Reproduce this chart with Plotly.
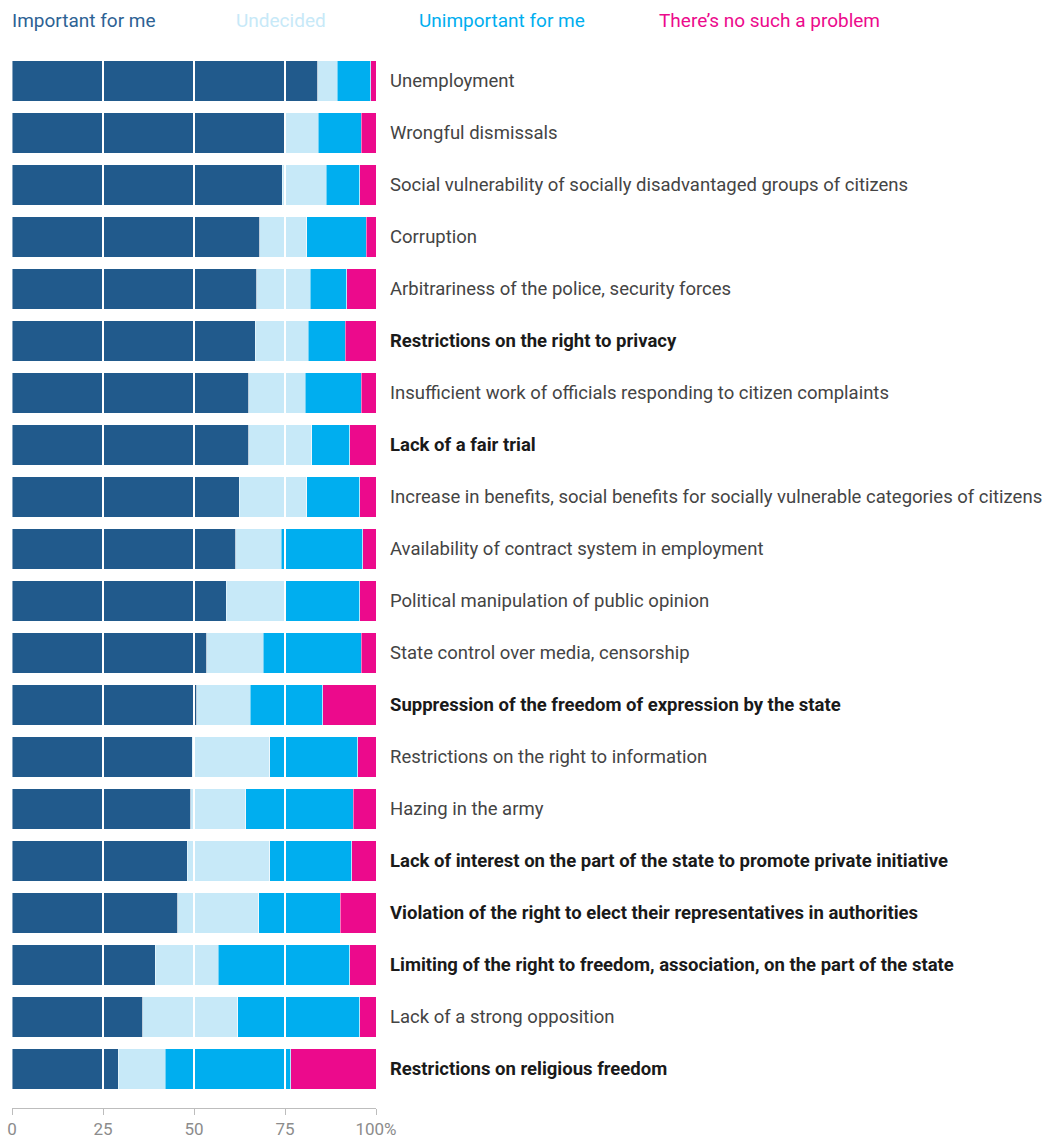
import plotly.graph_objects as go

categories = [
    "Unemployment",
    "Wrongful dismissals",
    "Social vulnerability of socially disadvantaged groups of citizens",
    "Corruption",
    "Arbitrariness of the police, security forces",
    "Restrictions on the right to privacy",
    "Insufficient work of officials responding to citizen complaints",
    "Lack of a fair trial",
    "Increase in benefits, social benefits for socially vulnerable categories of citizens",
    "Availability of contract system in employment",
    "Political manipulation of public opinion",
    "State control over media, censorship",
    "Suppression of the freedom of expression by the state",
    "Restrictions on the right to information",
    "Hazing in the army",
    "Lack of interest on the part of the state to promote private initiative",
    "Violation of the right to elect their representatives in authorities",
    "Limiting of the right to freedom, association, on the part of the state",
    "Lack of a strong opposition",
    "Restrictions on religious freedom",
]
bold_flags = [0, 0, 0, 0, 0, 1, 0, 1, 0, 0, 0, 0, 1, 0, 0, 1, 1, 1, 0, 1]

important = [84.0, 74.8, 74.3, 68.1, 67.2, 66.8, 65.0, 65.0, 62.4, 61.5,
             58.8, 53.5, 50.7, 49.5, 49.1, 48.2, 45.6, 39.4, 35.9, 29.2]
undecided = [5.4, 9.3, 12.0, 12.9, 14.7, 14.6, 15.6, 17.3, 18.6, 12.4,
             16.1, 15.5, 14.8, 21.3, 15.1, 22.6, 22.2, 17.3, 26.1, 12.9]
unimportant = [9.2, 11.9, 9.3, 16.3, 10.1, 10.2, 15.4, 10.5, 14.6, 22.5,
               20.7, 27.0, 19.9, 24.2, 29.6, 22.6, 22.4, 36.1, 33.6, 34.5]
no_problem = [1.4, 4.0, 4.4, 2.7, 8.0, 8.4, 4.0, 7.2, 4.4, 3.6,
              4.4, 4.0, 14.6, 5.0, 6.2, 6.6, 9.8, 7.2, 4.4, 23.4]

series_names = ["Important for me", "Undecided", "Unimportant for me", "There\u2019s no such a problem"]
series_values = [important, undecided, unimportant, no_problem]
colors = ["#215A8C", "#C7E9F8", "#00AEEF", "#EC0A8C"]
legend_text_colors = ["#2D6294", "#C7E9F8", "#00AEEF", "#EC0A8C"]
legend_x = [0.0, 0.615, 1.118, 1.777]  # paper fractions

x_ticks = [0, 25, 50, 75, 100]
x_tick_text = ["0", "25", "50", "75", "100%"]

rows = list(range(len(categories)))

fig = go.Figure()
for name, vals, col in zip(series_names, series_values, colors):
    fig.add_trace(go.Bar(
        y=rows, x=vals, name=name, orientation="h",
        marker=dict(color=col, line=dict(color="rgba(255,255,255,0.45)", width=1)),
        width=0.77, showlegend=False,
    ))

shapes = []
for gx in [25, 50, 75]:
    shapes.append(dict(type="line", xref="x", yref="y", x0=gx, x1=gx, y0=-0.5, y1=19.5,
                       line=dict(color="white", width=2), layer="above"))

annotations = []
for i, (cat, b) in enumerate(zip(categories, bold_flags)):
    annotations.append(dict(
        x=1, xref="paper", y=i, yref="y", xanchor="left", yanchor="middle",
        xshift=12, showarrow=False,
        text=f"<b>{cat}</b>" if b else cat,
        font=dict(family="Roboto", size=18.5, color="#1a1a1a" if b else "#444444"),
    ))
for name, col, lx in zip(series_names, legend_text_colors, legend_x):
    annotations.append(dict(
        x=lx, xref="paper", y=1.0, yref="paper", xanchor="left", yanchor="middle",
        yshift=35, xshift=-2, showarrow=False, text=name,
        font=dict(family="Roboto", size=19, color=col),
    ))

fig.update_layout(
    barmode="stack",
    width=1057, height=1142, autosize=False,
    margin=dict(l=12, r=681, t=55, b=34, autoexpand=False),
    paper_bgcolor="white", plot_bgcolor="white",
    shapes=shapes, annotations=annotations,
    xaxis=dict(range=[0, 100], tickvals=x_ticks, ticktext=x_tick_text, automargin=False,
               showgrid=False, zeroline=False, showline=True, linecolor="#bdbdbd", linewidth=1,
               ticks="outside", ticklen=6, tickcolor="#bdbdbd", tickwidth=1,
               tickfont=dict(family="Roboto", size=17, color="#8c8c8c")),
    yaxis=dict(range=[19.75, -0.5], showticklabels=False, showgrid=False, automargin=False,
               zeroline=False, showline=False, ticks=""),
)

fig.write_html("out.html", config={"displayModeBar": False},
               post_script="document.body.style.margin='0';document.body.style.overflow='hidden';")
